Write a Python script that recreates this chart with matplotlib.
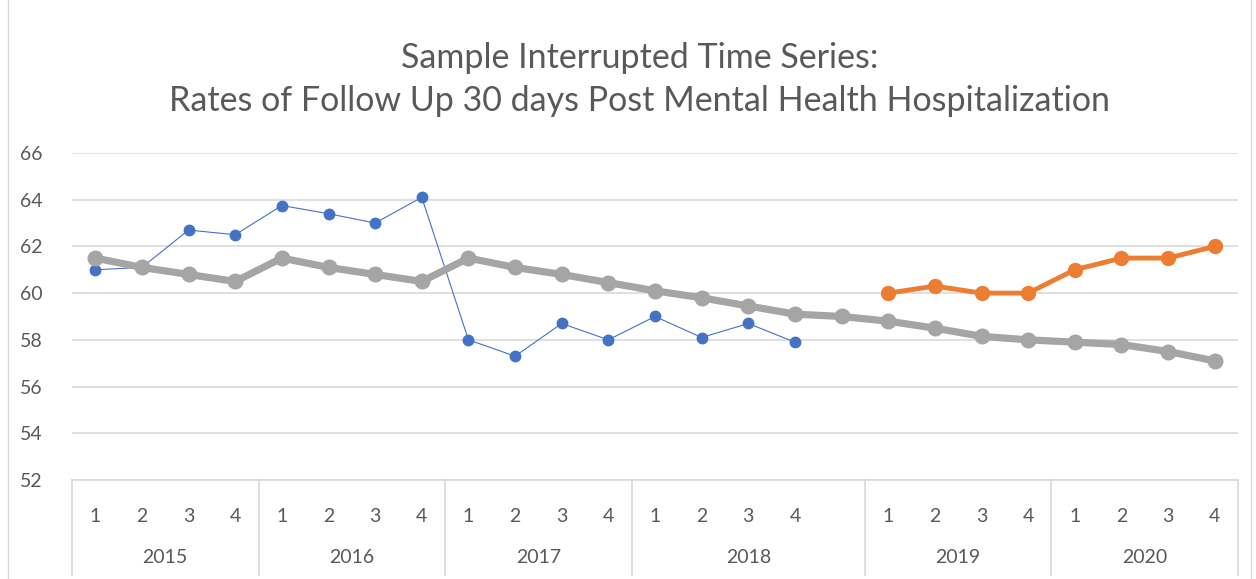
import numpy as np
import matplotlib.pyplot as plt
from matplotlib.patches import Rectangle

plt.rcParams['font.family'] = ['Lato', 'DejaVu Sans']

# quarters, with an empty slot between 2018 and 2019
quarters = ['1', '2', '3', '4'] * 4 + [''] + ['1', '2', '3', '4'] * 2
years = ['2015', '2016', '2017', '2018', '2019', '2020']
year_sizes = [4, 4, 4, 5, 4, 4]

nan = np.nan
observed = [61.0, 61.1, 62.7, 62.5, 63.75, 63.4, 63.0, 64.1,
            58.0, 57.3, 58.7, 58.0, 59.0, 58.1, 58.7, 57.9,
            nan, nan, nan, nan, nan, nan, nan, nan, nan]
trend = [61.5, 61.1, 60.8, 60.5, 61.5, 61.1, 60.8, 60.5,
         61.5, 61.1, 60.8, 60.45, 60.1, 59.8, 59.45, 59.1,
         59.0, 58.8, 58.5, 58.15, 58.0, 57.9, 57.8, 57.5, 57.1]
post = [nan] * 17 + [60.0, 60.3, 60.0, 60.0, 61.0, 61.5, 61.5, 62.0]

text_color = '#595959'
grid_color = '#d9d9d9'

fig = plt.figure(figsize=(12.56, 5.79), dpi=100)
fig.patches.append(Rectangle((0.006, -0.01), 0.99, 1.05, transform=fig.transFigure,
                             fill=False, edgecolor='#d9d9d9', linewidth=1))
ax = fig.add_axes([0.0573, 0.171, 0.9284, 0.5648])

x = np.arange(len(quarters))
ax.plot(x, observed, color='#4472c4', linewidth=0.8, marker='o', markersize=7.5, zorder=3)
ax.plot(x, post, color='#ed7d31', linewidth=3.5, marker='o', markersize=10, zorder=4)
ax.plot(x, trend, color='#a5a5a5', linewidth=5.2, marker='o', markersize=10.5, zorder=5)

ax.set_xlim(-0.5, len(quarters) - 0.5)
ax.set_ylim(52, 66)
ax.set_yticks(np.arange(52, 67, 2))
ax.yaxis.grid(True, color=grid_color, linewidth=1.2)
ax.set_axisbelow(True)
for s in ['top', 'right', 'left']:
    ax.spines[s].set_visible(False)
ax.spines['bottom'].set_color(grid_color)
ax.spines['bottom'].set_linewidth(1.2)
ax.tick_params(axis='y', length=0, pad=21, labelsize=14, labelcolor=text_color)

ax.set_xticks(x)
ax.set_xticklabels(quarters)
ax.tick_params(axis='x', length=0, pad=20, labelsize=14, labelcolor=text_color)

# year groups and separators under the axis
tr = ax.get_xaxis_transform()
start = 0
bounds = [-0.5]
for yr, n in zip(years, year_sizes):
    center = start + (n - 1) / 2
    ax.text(center, -0.237, yr, transform=tr, ha='center', va='center',
            fontsize=14, color=text_color)
    start += n
    bounds.append(start - 0.5)
for b in bounds:
    ax.plot([b, b], [0, -0.29], transform=tr, color=grid_color, linewidth=1.2,
            clip_on=False)

fig.text(0.509, 0.863, 'Sample Interrupted Time Series:\nRates of Follow Up 30 days Post Mental Health Hospitalization',
         ha='center', va='center', fontsize=24.5, color=text_color, linespacing=1.42)

fig.savefig('out.png', dpi=100)
